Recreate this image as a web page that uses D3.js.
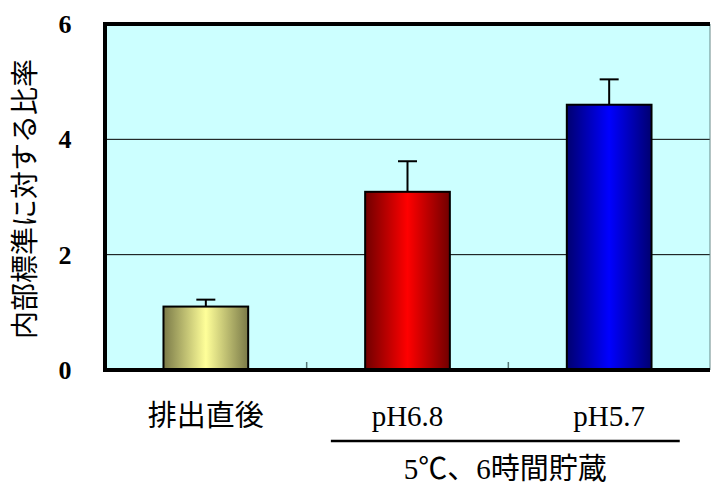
<!DOCTYPE html>
<meta charset="utf-8">
<style>
  body { margin: 0; background: #fff; }
  .tick-label { font-family: 'Liberation Serif', 'Times New Roman', serif; font-weight: bold; font-size: 26px; }
  .cat-label { font-family: 'Liberation Serif', 'Times New Roman', 'Noto Sans CJK JP', serif; font-size: 29px; }
  .axisTitle { font-family: 'Noto Sans CJK JP', sans-serif; font-size: 28px; }
</style>
<body>
<div id="chart"></div>
<script src="https://d3js.org/d3.v7.min.js"></script>
<script>
  // data
  var categories = ["排出直後", "pH6.8", "pH5.7"];
  var values = [1.10, 3.09, 4.60];
  var errors = [0.12, 0.53, 0.44];
  var yTicks = [0, 2, 4, 6];
  var groupLabel = "5℃、6時間貯蔵";
  var yTitle = "内部標準に対する比率";

  // gradient colours (edge, centre) per bar
  var barColors = [
    ["#7a7a48", "#ffff99"],
    ["#700000", "#ff0000"],
    ["#000070", "#0000ff"]
  ];

  var W = 713, H = 487;
  var plot = { left: 105, right: 710, top: 24, bottom: 370 };

  var svg = d3.select("#chart").append("svg")
    .attr("width", W).attr("height", H);

  var x = d3.scaleBand()
    .domain(categories)
    .range([plot.left, plot.right])
    .padding(0);

  var y = d3.scaleLinear()
    .domain([0, 6])
    .range([plot.bottom, plot.top]);

  // gradients
  var defs = svg.append("defs");
  barColors.forEach(function(c, i) {
    var g = defs.append("linearGradient")
      .attr("id", "grad" + i)
      .attr("x1", "0%").attr("x2", "100%").attr("y1", "0%").attr("y2", "0%");
    g.append("stop").attr("offset", "0%").attr("stop-color", c[0]);
    g.append("stop").attr("offset", "50%").attr("stop-color", c[1]);
    g.append("stop").attr("offset", "100%").attr("stop-color", c[0]);
  });

  // plot background
  svg.append("rect")
    .attr("x", plot.left).attr("y", plot.top)
    .attr("width", plot.right - plot.left).attr("height", plot.bottom - plot.top)
    .style("fill", "#ccffff");

  // gridlines
  svg.selectAll(".grid")
    .data(yTicks.filter(function(d) { return d > 0 && d < 6; }))
    .enter().append("line")
    .attr("x1", plot.left).attr("x2", plot.right)
    .attr("y1", function(d) { return y(d); })
    .attr("y2", function(d) { return y(d); })
    .style("stroke", "#000").style("stroke-width", 1);

  // category tick marks (band boundaries, pointing up)
  svg.selectAll(".ctick")
    .data(categories.slice(1))
    .enter().append("line")
    .attr("x1", function(d) { return x(d); })
    .attr("x2", function(d) { return x(d); })
    .attr("y1", plot.bottom).attr("y2", plot.bottom - 8)
    .style("stroke", "#557777").style("stroke-width", 1.5);

  var barW = x.bandwidth() * 0.42;

  // error bars
  categories.forEach(function(c, i) {
    var cx = x(c) + x.bandwidth() / 2;
    svg.append("line")
      .attr("x1", cx).attr("x2", cx)
      .attr("y1", y(values[i])).attr("y2", y(values[i] + errors[i]))
      .style("stroke", "#000").style("stroke-width", 2);
    svg.append("line")
      .attr("x1", cx - 9.5).attr("x2", cx + 9.5)
      .attr("y1", y(values[i] + errors[i])).attr("y2", y(values[i] + errors[i]))
      .style("stroke", "#000").style("stroke-width", 2);
  });

  // bars
  svg.selectAll(".bar")
    .data(values)
    .enter().append("rect")
    .attr("x", function(d, i) { return x(categories[i]) + (x.bandwidth() - barW) / 2; })
    .attr("y", function(d) { return y(d); })
    .attr("width", barW)
    .attr("height", function(d) { return y(0) - y(d); })
    .style("fill", function(d, i) { return "url(#grad" + i + ")"; })
    .style("stroke", "#000").style("stroke-width", 2);

  // frame
  svg.append("line")
    .attr("x1", plot.right).attr("x2", plot.right)
    .attr("y1", plot.top).attr("y2", plot.bottom)
    .style("stroke", "#668888").style("stroke-width", 1);
  svg.append("path")
    .attr("d", "M" + plot.right + "," + plot.top + "H" + plot.left + "V" + plot.bottom + "H" + plot.right)
    .style("fill", "none").style("stroke", "#000").style("stroke-width", 4);

  // y tick labels
  svg.selectAll(".ylab")
    .data(yTicks)
    .enter().append("text")
    .attr("class", "tick-label")
    .attr("x", 65)
    .attr("y", function(d) { return y(d); })
    .attr("dy", "0.35em")
    .attr("text-anchor", "middle")
    .text(function(d) { return d; });

  // y axis title
  svg.append("text")
    .attr("class", "axisTitle")
    .attr("transform", "translate(35," + ((plot.top + plot.bottom) / 2 + 2) + ") rotate(-90)")
    .attr("text-anchor", "middle")
    .text(yTitle);

  // category labels
  svg.selectAll(".xlab")
    .data(categories)
    .enter().append("text")
    .attr("class", "cat-label")
    .attr("x", function(d) { return x(d) + x.bandwidth() / 2; })
    .attr("y", 426)
    .attr("text-anchor", "middle")
    .text(function(d) { return d; });

  // group bracket under the stored samples
  var gx1 = x(categories[1]) + x.bandwidth() * 0.12;
  var gx2 = x(categories[2]) + x.bandwidth() * 0.85;
  svg.append("line")
    .attr("x1", gx1).attr("x2", gx2)
    .attr("y1", 441).attr("y2", 441)
    .style("stroke", "#000").style("stroke-width", 2.5);
  svg.append("text")
    .attr("class", "cat-label")
    .attr("x", (gx1 + gx2) / 2)
    .attr("y", 479)
    .attr("text-anchor", "middle")
    .text(groupLabel);
</script>
</body>
